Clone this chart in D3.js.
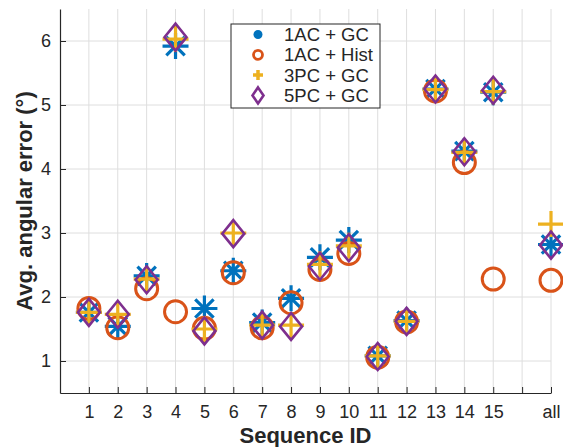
<!DOCTYPE html>
<html>
<head>
<meta charset="utf-8">
<script src="https://cdn.jsdelivr.net/npm/d3@7"></script>
<style>
  body { margin: 0; background: #fff; }
  text { font-family: "Liberation Sans", Arial, sans-serif; fill: #262626; }
</style>
</head>
<body>
<div id="chart"></div>
<script>
// sequence labels (blank slot keeps a gap before "all")
var categories = ["1","2","3","4","5","6","7","8","9","10","11","12","13","14","15","","all"];
var seqIds = ["1","2","3","4","5","6","7","8","9","10","11","12","13","14","15","all"];

var ac_gc   = [1.76,1.54,2.33,5.92,1.82,2.41,1.60,1.98,2.62,2.89,1.08,1.63,5.25,4.28,5.20,2.82];
var ac_hist = [1.82,1.52,2.13,1.77,1.51,2.38,1.52,1.91,2.43,2.68,1.06,1.61,5.22,4.10,2.28,2.26];
var pc3_gc  = [1.76,1.73,2.28,6.03,1.50,3.00,1.56,1.56,2.51,2.80,1.08,1.62,5.24,4.26,5.21,3.14];
var pc5_gc  = [1.76,1.73,2.27,6.06,1.47,2.99,1.56,1.54,2.48,2.77,1.07,1.62,5.25,4.27,5.23,2.81];

var yTicks = [1,2,3,4,5,6];
var seriesNames = ["1AC + GC","1AC + Hist","3PC + GC","5PC + GC"];
var colors = ["#0072BD","#D95319","#EDB120","#7E2F8E"];

var width = 563, height = 447;
var mLeft = 60, mRight = 551, mTop = 9, mBottom = 393;

var svg = d3.select("#chart").append("svg")
    .attr("width", width)
    .attr("height", height);

var x = d3.scaleLinear().domain([0, categories.length]).range([mLeft, mRight]);
var y = d3.scaleLinear().domain([0.5, 6.5]).range([mBottom, mTop]);
var xOf = function(id){ return x(categories.indexOf(id) + 1); };

// grid
svg.append("g").selectAll("line")
    .data(categories)
    .join("line")
    .attr("x1", (d,i) => x(i+1)).attr("x2", (d,i) => x(i+1))
    .attr("y1", mTop).attr("y2", mBottom)
    .attr("stroke", "#dedede").attr("stroke-width", 1);
svg.append("g").selectAll("line")
    .data(yTicks)
    .join("line")
    .attr("x1", mLeft).attr("x2", mRight)
    .attr("y1", d => y(d)).attr("y2", d => y(d))
    .attr("stroke", "#dedede").attr("stroke-width", 1);

// axes
var xAxis = d3.axisBottom(x)
    .tickValues(d3.range(1, categories.length + 1))
    .tickFormat(d => categories[d-1])
    .tickSizeInner(-6).tickSizeOuter(0).tickPadding(12);
var gx = svg.append("g").attr("transform", "translate(0," + mBottom + ")").call(xAxis);
var yAxis = d3.axisLeft(y)
    .tickValues(yTicks)
    .tickFormat(d3.format("d"))
    .tickSizeInner(-6).tickSizeOuter(0).tickPadding(9);
var gy = svg.append("g").attr("transform", "translate(" + mLeft + ",0)").call(yAxis);
[gx, gy].forEach(function(g){
  g.select(".domain").attr("stroke", "#262626").attr("stroke-width", 1.2);
  g.selectAll(".tick line").attr("stroke", "#262626");
  g.selectAll(".tick text").attr("font-size", 18).attr("fill", "#262626")
    .attr("font-family", "Liberation Sans, Arial, sans-serif");
});

// axis titles
svg.append("text")
    .attr("x", (mLeft + mRight) / 2).attr("y", 443)
    .attr("text-anchor", "middle")
    .attr("font-size", 22).attr("font-weight", "bold")
    .text("Sequence ID");
svg.append("text")
    .attr("transform", "translate(32," + (mTop + mBottom) / 2 + ") rotate(-90)")
    .attr("text-anchor", "middle")
    .attr("font-size", 22).attr("font-weight", "bold")
    .text("Avg. angular error (°)");

// marker shapes
function asterisk(r){
  var d = r * 0.707;
  return "M" + (-r) + ",0L" + r + ",0M0," + (-r) + "L0," + r +
         "M" + (-d) + "," + (-d) + "L" + d + "," + d +
         "M" + (-d) + "," + d + "L" + d + "," + (-d);
}
function plus(r){ return "M" + (-r) + ",0L" + r + ",0M0," + (-r) + "L0," + r; }
function diamond(w, h){ return "M0," + (-h) + "L" + w + ",0L0," + h + "L" + (-w) + ",0Z"; }

function drawSeries(vals, shape, color, sw, isCircle){
  var g = svg.append("g");
  var pts = g.selectAll(isCircle ? "circle" : "path")
    .data(vals)
    .join(isCircle ? "circle" : "path")
    .attr("fill", "none")
    .attr("stroke", color)
    .attr("stroke-width", sw);
  if (isCircle) {
    pts.attr("cx", (d,i) => xOf(seqIds[i])).attr("cy", d => y(d)).attr("r", 11);
  } else {
    pts.attr("transform", (d,i) => "translate(" + xOf(seqIds[i]) + "," + y(d) + ")")
       .attr("d", shape);
  }
}
drawSeries(ac_gc, asterisk(13), colors[0], 3.2, false);
drawSeries(ac_hist, null, colors[1], 3, true);
drawSeries(pc3_gc, plus(13), colors[2], 3.2, false);
drawSeries(pc5_gc, diamond(11, 13.5), colors[3], 2.6, false);

// legend
var lg = svg.append("g");
lg.append("rect")
    .attr("x", 231).attr("y", 24).attr("width", 149).attr("height", 84)
    .attr("fill", "#fff").attr("stroke", "#262626").attr("stroke-width", 1);
var items = lg.selectAll("g.item")
    .data(seriesNames)
    .join("g")
    .attr("class", "item")
    .attr("transform", (d,i) => "translate(258," + (34.5 + i * 20.3) + ")");
items.append("text")
    .attr("x", 26).attr("dy", "0.35em")
    .attr("font-size", 18.5)
    .text(d => d);
items.each(function(d, i){
  var s = d3.select(this);
  if (i === 0) s.append("circle").attr("r", 4.5).attr("fill", colors[0]);
  if (i === 1) s.append("circle").attr("r", 4.5).attr("fill", "none").attr("stroke", colors[1]).attr("stroke-width", 2.8);
  if (i === 2) s.append("path").attr("d", plus(5)).attr("stroke", colors[2]).attr("stroke-width", 3.5);
  if (i === 3) s.append("path").attr("d", diamond(5.5, 8)).attr("fill", "none").attr("stroke", colors[3]).attr("stroke-width", 2.6);
});
</script>
</body>
</html>
